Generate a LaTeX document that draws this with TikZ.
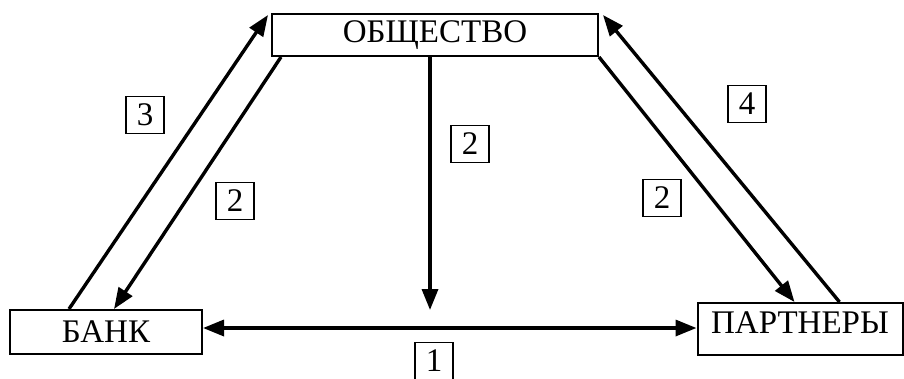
\documentclass[tikz,border=0pt]{standalone}
\usepackage{fontspec}
\setmainfont{Liberation Serif}
\usetikzlibrary{arrows.meta, positioning}

\tikzset{
  unit/.style={draw, line width=2pt, inner sep=0pt, font=\fontsize{33}{38}\selectfont},
  numbox/.style={draw, line width=1.3pt, minimum width=38pt, minimum height=37pt, inner sep=0pt, font=\fontsize{33}{38}\selectfont},
  arr/.style={line width=3.4pt, -{Triangle[length=21pt,width=16pt]}},
  darr/.style={line width=3.4pt, {Triangle[length=21pt,width=16pt]}-{Triangle[length=21pt,width=16pt]}}
}

\begin{document}
\begin{tikzpicture}[x=1pt,y=-1pt]
  \useasboundingbox (0,0) rectangle (904,378);
  % boxes
  \node[unit, minimum width=326pt, minimum height=42pt] (society) at (435,35) {ОБЩЕСТВО};
  \node[unit, minimum width=192pt, minimum height=44pt] (bank) at (106,332) {БАНК};
  \node[unit, minimum width=205pt, minimum height=52pt, text height=22pt, text depth=14pt] (partners) at (800,329) {ПАРТНЕРЫ};
  \coordinate (mid) at (430,310);
  % connectors
  \draw[arr] ([xshift=60pt]bank.north west) -- ([xshift=-3pt,yshift=-2pt]society.north west);
  \draw[arr] ([xshift=10pt]society.south west) -- ([xshift=105pt]bank.north west);
  \draw[arr] ([xshift=-5pt]society.south) -- (mid);
  \draw[darr] ([yshift=4pt]bank.east) -- ([yshift=1pt]partners.west);
  \draw[arr] (society.south east) -- ([xshift=98pt]partners.north west);
  \draw[arr] ([xshift=143pt]partners.north west) -- ([xshift=4pt,yshift=-2pt]society.north east);
  % numbers
  \node[numbox] (n3) at (145,115) {3};
  \node[numbox] (n2a) at (235,201) {2};
  \node[numbox] (n2b) at (470,144) {2};
  \node[numbox] (n4) at (747,104) {4};
  \node[numbox] (n2c) at (662,198) {2};
  \node[numbox] (n1) at (434,361) {1};
\end{tikzpicture}
\end{document}
